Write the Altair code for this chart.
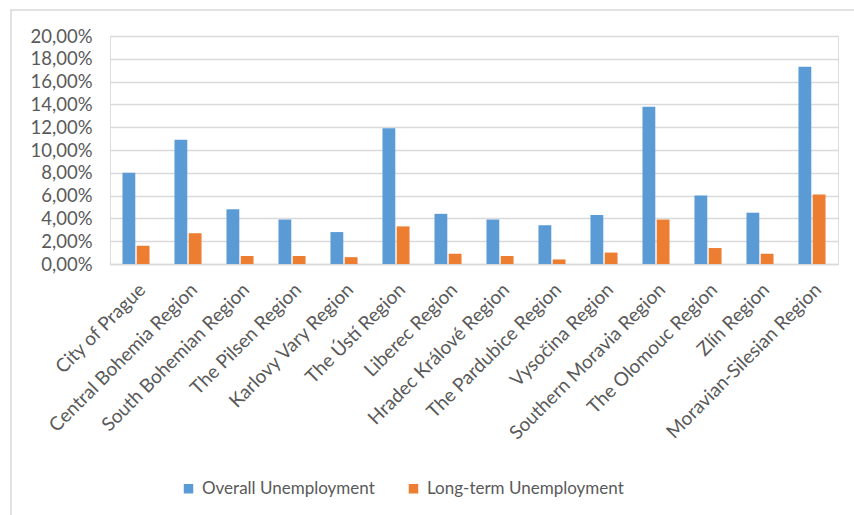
import altair as alt
import pandas as pd

regions = [
    "City of Prague", "Central Bohemia Region", "South Bohemian Region",
    "The Pilsen Region", "Karlovy Vary Region", "The Ústí Region",
    "Liberec Region", "Hradec Králové Region", "The Pardubice Region",
    "Vysočina Region", "Southern Moravia Region", "The Olomouc Region",
    "Zlín Region", "Moravian-Silesian Region",
]
overall = [8.0, 10.9, 4.8, 3.9, 2.8, 11.9, 4.4, 3.9, 3.4, 4.3, 13.8, 6.0, 4.5, 17.3]
longterm = [1.6, 2.7, 0.7, 0.7, 0.6, 3.3, 0.9, 0.7, 0.4, 1.0, 3.9, 1.4, 0.9, 6.1]
series = ["Overall Unemployment", "Long-term Unemployment"]
colors = ["#5B9BD5", "#ED7D31"]

rows = []
for r, o, l in zip(regions, overall, longterm):
    rows.append({"region": r, "series": series[0], "value": o})
    rows.append({"region": r, "series": series[1], "value": l})
df = pd.DataFrame(rows)

FONT = "Lato"
GRAY = "#595959"
PLOT_LEFT = 110
PLOT_TOP = 36
W = 728
H = 228

bars = alt.Chart(df).mark_bar().encode(
    x=alt.X("region:N", sort=regions,
            scale=alt.Scale(paddingInner=0.48, paddingOuter=0.24),
            axis=alt.Axis(title=None, labelAngle=-45, labelFontSize=19,
                          labelColor=GRAY, labelFont=FONT, ticks=False,
                          domainColor="#d9d9d9", domainWidth=1.5,
                          labelPadding=16, labelLimit=300)),
    xOffset=alt.XOffset("series:N", sort=series,
                        scale=alt.Scale(paddingInner=0.1)),
    y=alt.Y("value:Q", scale=alt.Scale(domain=[0, 20]),
            axis=alt.Axis(title=None, values=list(range(0, 21, 2)),
                          labelExpr="replace(format(datum.value, '.2f'), '.', ',') + '%'",
                          labelFontSize=18.5, labelColor=GRAY, labelFont=FONT,
                          ticks=False, domain=False, labelPadding=18,
                          gridColor="#d9d9d9", gridWidth=1.5)),
    color=alt.Color("series:N", sort=series,
                    scale=alt.Scale(domain=series, range=colors),
                    legend=alt.Legend(title=None, orient="none", direction="horizontal",
                                      legendX=70, legendY=444,
                                      symbolType="square", symbolSize=90,
                                      symbolStrokeWidth=0, labelLimit=400,
                                      labelFontSize=17, labelColor=GRAY, labelFont=FONT,
                                      columnPadding=30, labelOffset=5)),
)

border = alt.Chart(pd.DataFrame({"a": [0]})).mark_rect(
    fill=None, stroke="#d9d9d9", strokeWidth=1.5
).encode(
    x=alt.value(11 - PLOT_LEFT),
    x2=alt.value(870 - PLOT_LEFT),
    y=alt.value(10 - PLOT_TOP),
    y2=alt.value(530 - PLOT_TOP),
)

chart = alt.layer(border, bars).properties(
    width=W, height=H,
    autosize=alt.AutoSizeParams(type="none"),
    padding={"left": PLOT_LEFT, "top": PLOT_TOP, "right": 854 - PLOT_LEFT - W, "bottom": 515 - PLOT_TOP - H},
).configure_view(stroke=None).configure(background="white")

chart.save("out.html", embed_options={"renderer": "svg", "actions": False})
